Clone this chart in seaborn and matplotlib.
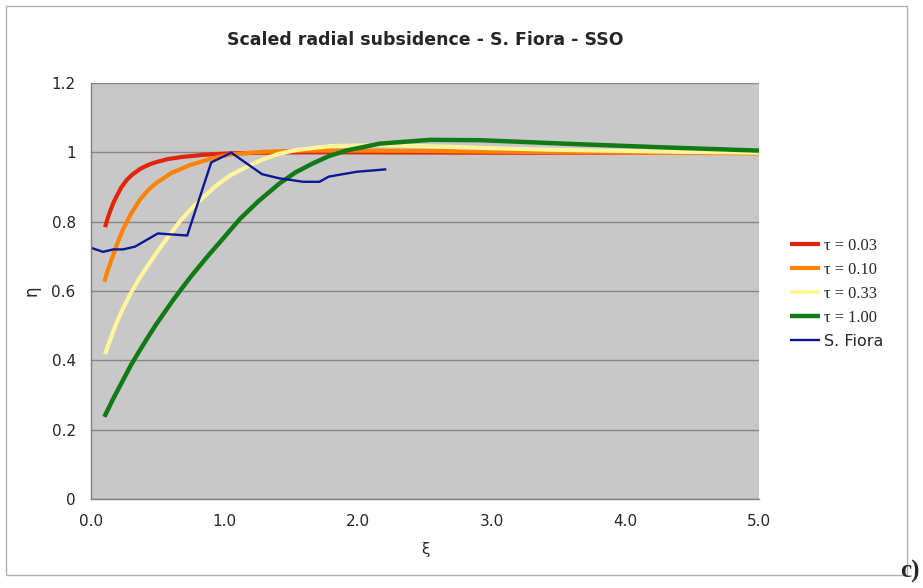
import numpy as np
import pandas as pd
import matplotlib
matplotlib.use("Agg")
import matplotlib.pyplot as plt
import seaborn as sns
from matplotlib.patches import Rectangle

# curves (xi, eta)
xi_t003 = [0.105, 0.125, 0.142, 0.165, 0.19, 0.225, 0.267, 0.31, 0.367, 0.43, 0.49, 0.58, 0.69, 0.85, 1.04, 1.3, 1.6, 2.0, 3.0, 4.0, 5.0]
eta_t003 = [0.784, 0.81, 0.829, 0.852, 0.872, 0.898, 0.92, 0.936, 0.952, 0.964, 0.972, 0.981, 0.987, 0.993, 0.997, 0.999, 1.0, 1.0, 0.999, 0.999, 0.999]

xi_t010 = [0.1, 0.13, 0.167, 0.2, 0.24, 0.3, 0.367, 0.43, 0.49, 0.6, 0.74, 0.9, 1.04, 1.3, 1.6, 2.0, 2.5, 3.0, 4.0, 5.0]
eta_t010 = [0.627, 0.665, 0.705, 0.74, 0.778, 0.823, 0.864, 0.892, 0.912, 0.94, 0.963, 0.982, 0.994, 1.002, 1.005, 1.005, 1.004, 1.002, 0.999, 0.997]

xi_t033 = [0.105, 0.15, 0.19, 0.24, 0.29, 0.355, 0.42, 0.485, 0.55, 0.67, 0.77, 0.94, 1.04, 1.19, 1.29, 1.4, 1.54, 1.79, 2.16, 2.5, 2.99, 3.5, 4.0, 4.5, 5.0]
eta_t033 = [0.418, 0.466, 0.507, 0.55, 0.588, 0.632, 0.67, 0.707, 0.742, 0.803, 0.845, 0.905, 0.933, 0.963, 0.98, 0.995, 1.007, 1.018, 1.021, 1.018, 1.012, 1.007, 1.004, 1.001, 0.999]

xi_t100 = [0.1, 0.17, 0.24, 0.3, 0.367, 0.43, 0.49, 0.615, 0.74, 0.866, 0.99, 1.115, 1.25, 1.41, 1.53, 1.66, 1.78, 1.91, 2.16, 2.54, 2.91, 3.3, 3.61, 4.31, 5.0]
eta_t100 = [0.237, 0.292, 0.343, 0.387, 0.43, 0.469, 0.505, 0.574, 0.638, 0.697, 0.752, 0.808, 0.858, 0.91, 0.942, 0.968, 0.989, 1.005, 1.025, 1.036, 1.035, 1.029, 1.024, 1.014, 1.005]

xi_fiora = [0.005, 0.09, 0.167, 0.24, 0.33, 0.50, 0.72, 0.90, 1.05, 1.28, 1.41, 1.59, 1.71, 1.78, 1.99, 2.21]
eta_fiora = [0.724, 0.713, 0.72, 0.72, 0.728, 0.766, 0.760, 0.971, 0.999, 0.937, 0.925, 0.915, 0.915, 0.93, 0.944, 0.951]

series = [
    ("\u03c4 = 0.03", xi_t003, eta_t003, "#E3230B", 3.0),
    ("\u03c4 = 0.10", xi_t010, eta_t010, "#FF8200", 3.0),
    ("\u03c4 = 0.33", xi_t033, eta_t033, "#FFF59C", 3.0),
    ("\u03c4 = 1.00", xi_t100, eta_t100, "#117A17", 3.2),
    ("S. Fiora", xi_fiora, eta_fiora, "#0B1796", 1.7),
]

sns.set_style("white")
plt.rcParams["font.family"] = ["DejaVu Sans"]

fig = plt.figure(figsize=(9.23, 5.88), dpi=100)
ax = fig.add_axes([91 / 923, 1 - 499 / 588, (759 - 91) / 923, (499 - 83) / 588])

for name, xs, ys, col, lw in series:
    df = pd.DataFrame({"xi": xs, "eta": ys})
    sns.lineplot(data=df, x="xi", y="eta", color=col, lw=lw, label=name, ax=ax,
                 sort=False, solid_joinstyle="round", solid_capstyle="butt")

ax.set_facecolor("#C8C8C8")
ax.set_xlim(0, 5)
ax.set_ylim(0, 1.2)
ax.set_yticks(np.arange(0, 1.21, 0.2))
ax.set_yticklabels(["0", "0.2", "0.4", "0.6", "0.8", "1", "1.2"])
ax.set_xticks(np.arange(0, 5.01, 1.0))
ax.set_xticklabels(["0.0", "1.0", "2.0", "3.0", "4.0", "5.0"])
ax.set_xticks(np.arange(0, 5.01, 0.5), minor=True)
ax.grid(axis="y", color="#868686", lw=1.0)
ax.set_axisbelow(True)
for s in ["top", "right"]:
    ax.spines[s].set_visible(False)
for s in ["left", "bottom"]:
    ax.spines[s].set_color("#808080")
    ax.spines[s].set_linewidth(1.0)
ax.tick_params(axis="both", which="both", direction="out", length=5, width=0.8,
               color="#808080", labelsize=11, pad=6)
ax.tick_params(axis="x", which="minor", length=5)

ax.set_xlabel("\u03be", fontsize=11, labelpad=9)
ax.set_ylabel("\u03b7", fontsize=12, labelpad=8, rotation=90)
fig.text(425 / 923, 1 - 40 / 588, "Scaled radial subsidence - S. Fiora - SSO",
         fontsize=12.5, fontweight="bold", ha="center", va="center")

leg = ax.legend(loc="center left", bbox_to_anchor=(1.025, 0.494), frameon=False,
                handlelength=1.9, handletextpad=0.25, labelspacing=0.5, fontsize=11.5)
for t in leg.get_texts()[:4]:
    t.set_family(["Liberation Serif"])
    t.set_fontsize(11.8)

# outer chart border and panel label
fig.patches.append(Rectangle((6 / 923, 1 - 575 / 588), 901 / 923, 569 / 588,
                             transform=fig.transFigure, fill=False,
                             edgecolor="#B0B0B0", lw=1.0))
fig.text(900 / 923, 1 - 571 / 588, "c)", fontsize=18, fontweight="bold",
         family=["Liberation Serif"], va="center", ha="left")

fig.savefig("out.png", dpi=100)
